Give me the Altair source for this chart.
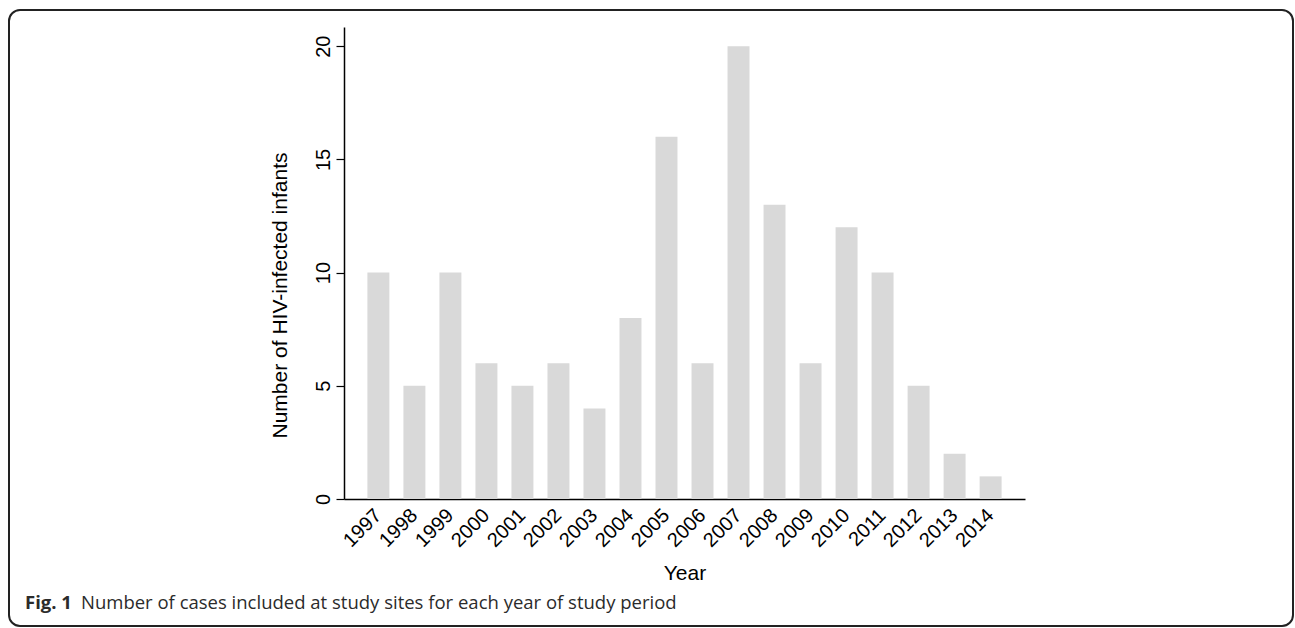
import altair as alt
import pandas as pd

years = ["1997", "1998", "1999", "2000", "2001", "2002", "2003", "2004", "2005",
         "2006", "2007", "2008", "2009", "2010", "2011", "2012", "2013", "2014"]
counts = [10, 5, 10, 6, 5, 6, 4, 8, 16, 6, 20, 13, 6, 12, 10, 5, 2, 1]
y_ticks = [0, 5, 10, 15, 20]

df = pd.DataFrame({"year": years, "n": counts})
one = pd.DataFrame({"a": [0]})

AX_FONT = "Liberation Sans"

bars = alt.Chart(df).mark_bar(color="#d9d9d9").encode(
    x=alt.X("year:O", sort=years,
            scale=alt.Scale(paddingInner=0.39, paddingOuter=0.65),
            axis=alt.Axis(title="Year", labelAngle=-45, labelAlign="right",
                          labelBaseline="middle", ticks=False, labelPadding=13,
                          labelFont=AX_FONT, labelFontSize=20, labelColor="#000",
                          titleFont=AX_FONT, titleFontSize=21, titleFontWeight="normal",
                          titleColor="#000", titleY=74, titleBaseline="middle",
                          domainColor="#000", domainWidth=1.5)),
    y=alt.Y("n:Q", scale=alt.Scale(domain=[0, 20.85], nice=False, zero=True),
            axis=alt.Axis(title="Number of HIV-infected infants", values=y_ticks,
                          grid=False, labelAngle=270, labelAlign="center",
                          labelBaseline="bottom", labelPadding=3, tickSize=8,
                          tickColor="#000", tickWidth=1.2,
                          labelFont=AX_FONT, labelFontSize=20, labelColor="#000",
                          titleFont=AX_FONT, titleFontSize=21, titleFontWeight="normal",
                          titleColor="#000", titleAngle=270, titleX=-64, titleY=268,
                          titleAlign="center", titleBaseline="middle",
                          domainColor="#000", domainWidth=1.5)),
)

border = alt.Chart(one).mark_rect(filled=False, stroke="#222", strokeWidth=2,
                                  cornerRadius=11).encode(
    x=alt.value(-335), x2=alt.value(949), y=alt.value(-17), y2=alt.value(599)
)

cap_bold = alt.Chart(one).mark_text(text="Fig. 1", font="Open Sans", fontSize=18.5,
                                    fontWeight="bold", align="left", baseline="middle",
                                    color="#2b2b2b").encode(
    x=alt.value(-319), y=alt.value(576)
)
cap_rest = alt.Chart(one).mark_text(
    text="Number of cases included at study sites for each year of study period",
    font="Open Sans", fontSize=18.5, align="left", baseline="middle",
    color="#2b2b2b").encode(
    x=alt.value(-263), y=alt.value(576)
)

chart = alt.layer(bars, border, cap_bold, cap_rest).properties(
    width=681, height=472,
    padding={"left": 344, "top": 27, "right": 270, "bottom": 129},
    autosize=alt.AutoSizeParams(type="none"),
).configure_view(strokeWidth=0)

chart.save("out.html", embed_options={"renderer": "svg", "actions": False})
